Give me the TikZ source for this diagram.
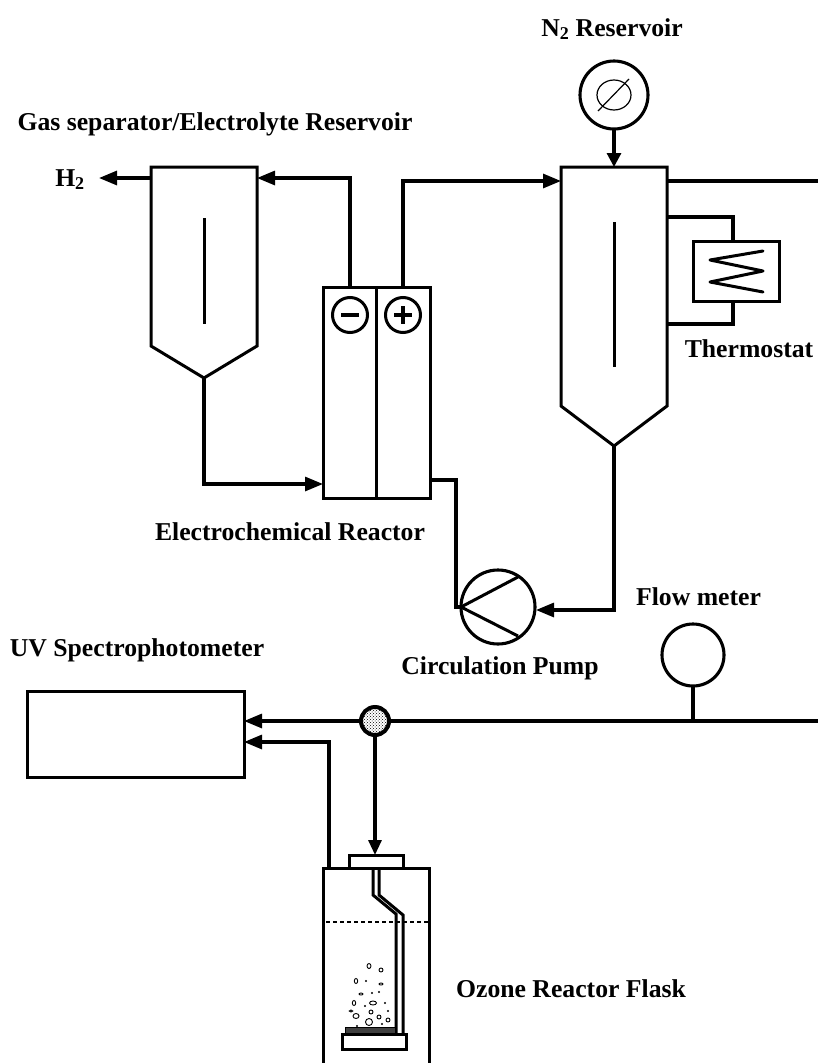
\documentclass[tikz,border=0pt]{standalone}
\usepackage{fontspec}
\setmainfont{Liberation Serif}
\usetikzlibrary{arrows.meta,patterns}
\tikzset{
    pipe/.style={line width=3.1pt},
    wall/.style={line width=3pt},
    flow/.style={pipe, -{Triangle[length=18pt,width=14pt]}},
    unit/.style={draw, line width=3pt, inner sep=0pt, outer sep=0pt},
    disc/.style={unit, line width=3.1pt, circle},
    lbl/.style={font=\fontsize{25.7}{28}\selectfont\bfseries, inner sep=0pt, anchor=base}
}
\begin{document}
\begin{tikzpicture}[x=1pt, y=-1pt]
    \useasboundingbox (0,0) rectangle (818,1063);

    % Labels
    \node[lbl] (n2label) at (612,36) {N\textsubscript{2} Reservoir};
    \node[lbl] (seplabel) at (215,130) {Gas separator/Electrolyte Reservoir};
    \node[lbl] (h2) at (70,186) {H\textsubscript{2}};
    \node[lbl] (thermolabel) at (749,357) {Thermostat};
    \node[lbl] (reactorlabel) at (290,540) {Electrochemical Reactor};
    \node[lbl] (pumplabel) at (500,674) {Circulation Pump};
    \node[lbl] (meterlabel) at (698.5,605) {Flow meter};
    \node[lbl] (uvlabel) at (137,656) {UV Spectrophotometer};
    \node[lbl] (ozonelabel) at (571,997) {Ozone Reactor Flask};

    % Gas separator
    \coordinate (sepnw) at (151,167);
    \coordinate (sepne) at (257,167);
    \coordinate (sepin) at (257,178);
    \coordinate (sepout) at (151,178);
    \coordinate (sepbot) at (204,378);
    \coordinate (h2tip) at (99,178);
    \draw[wall] (sepnw) -- (sepne) -- (257,346) -- (sepbot) -- (151,346) -- cycle;
    \draw[wall] (204,218) -- (204,324);

    % Electrochemical reactor
    \node[unit, minimum width=107pt, minimum height=211pt] (reactor) at (376.5,392.5) {};
    \draw[wall] (reactor.north) -- (reactor.south);
    \node[unit, circle, minimum size=35pt] (minus) at (350,315) {};
    \node[unit, circle, minimum size=35pt] (plus) at (403,315) {};
    \draw[pipe] (341,315) -- (359,315);
    \draw[pipe] (394,315) -- (412,315) (403,306) -- (403,324);
    \coordinate (minustop) at (350,287);
    \coordinate (plustop) at (403,287);
    \coordinate (reactorin) at (323,484);
    \coordinate (reactorout) at (430,480);

    % Main tank
    \coordinate (tanknw) at (561,167);
    \coordinate (tankne) at (667,167);
    \coordinate (tankin) at (561,181);
    \coordinate (tankout) at (667,181);
    \coordinate (tankbot) at (614,446);
    \draw[wall] (tanknw) -- (tankne) -- (667,406) -- (tankbot) -- (561,406) -- cycle;
    \draw[wall] (614,222) -- (614,367);

    % N2 reservoir
    \node[disc, minimum size=68pt] (n2) at (614,95) {};
    \draw[line width=1.2pt] (614,95) ellipse (17 and 15);
    \draw[line width=1.2pt] (598,111) -- (629,79);
    \coordinate (tanktop) at (614,167);

    % Thermostat
    \node[unit, minimum width=86pt, minimum height=60pt] (thermo) at (736,271) {};
    \draw[wall, line join=round, line cap=round] (763,251) -- (710,260) -- (763,271) -- (710,282) -- (763,292);
    \coordinate (thermotop) at (733,241);
    \coordinate (thermobot) at (733,301);
    \coordinate (tankhot) at (667,217);
    \coordinate (tankcold) at (667,324);

    % Pump
    \node[disc, minimum size=74pt] (pump) at (498,607) {};
    \draw[wall] (518,577) -- (pump.west) -- (518,636);
    \coordinate (pumpin) at (536,610);

    % Measuring line
    \node[disc, minimum size=62pt] (meter) at (693,655) {};
    \node[disc, line width=4pt, minimum size=28pt, pattern=crosshatch dots, pattern color=black] (valve) at (375,721) {};
    \node[unit, minimum width=217pt, minimum height=86pt] (uv) at (135.5,734) {};
    \coordinate (lineend) at (818,721);
    \coordinate (linemeter) at (693,721);
    \coordinate (uvtop) at (244,721);
    \coordinate (uvbot) at (244,742);
    \coordinate (rightend) at (818,181);

    % Ozone reactor flask
    \coordinate (flaskleft) at (323,1063);
    \coordinate (flaskright) at (429,1063);
    \coordinate (flaskout) at (329,868);
    \coordinate (capin) at (375,855);
    \draw[wall] (flaskleft) -- (323,868) -- (429,868) -- (flaskright);
    \draw[wall] (349,868) -- (349,855) -- (403,855) -- (403,868);
    \draw[wall] (373,868) -- (373,895) -- (396,914) -- (396,1033);
    \draw[wall] (379,868) -- (379,895) -- (403,915) -- (403,1033);
    \draw[line width=1.5pt, dash pattern=on 4pt off 3pt] (326,922) -- (428,922);
    \node[unit, line width=1pt, minimum width=50pt, minimum height=7pt, fill=black!75] (frit) at (370.5,1030.5) {};
    \node[unit, minimum width=64pt, minimum height=15pt] (base) at (374,1041.5) {};

    % Bubbles
    \foreach \bx/\by/\rx/\ry in {369/966/2/2.5, 381/970/2/2, 356/981/1.7/2.5, 381/984/2/1, 361/994/2/1,
        354/1003/1.7/2.5, 373/1003/3.5/2, 351/1011/1.7/1, 371/1012/2/2, 356/1016/3/2.5,
        379/1017/2/2, 388/1020/2/2, 369/1022/3.5/3.5}
        \draw[line width=0.9pt] (\bx,\by) ellipse (\rx pt and \ry pt);
    \foreach \bx/\by in {366/981, 372/993, 379/992, 365/1006, 385/1003, 388/1011, 382/1024, 357/1026}
        \fill (\bx,\by) circle (1.2pt);

    % Connectors
    \draw[flow] (sepout) -- (h2tip);
    \draw[flow] (minustop) |- (sepin);
    \draw[flow] (plustop) |- (tankin);
    \draw[flow] (sepbot) |- (reactorin);
    \draw[pipe] (reactorout) -| (456,607) -- (pump.west);
    \draw[flow] (tankbot) |- (pumpin);
    \draw[pipe, -{Triangle[length=14pt,width=14pt]}] (n2) -- (tanktop);
    \draw[pipe] (tankout) -- (rightend);
    \draw[pipe] (tankhot) -| (thermotop);
    \draw[pipe] (tankcold) -| (thermobot);
    \draw[pipe] (lineend) -- (valve);
    \draw[pipe] (linemeter) -- (meter);
    \draw[flow] (valve) -- (uvtop);
    \draw[flow] (flaskout) |- (uvbot);
    \draw[pipe, -{Triangle[length=15pt,width=13pt]}] (valve) -- (capin);
\end{tikzpicture}
\end{document}
